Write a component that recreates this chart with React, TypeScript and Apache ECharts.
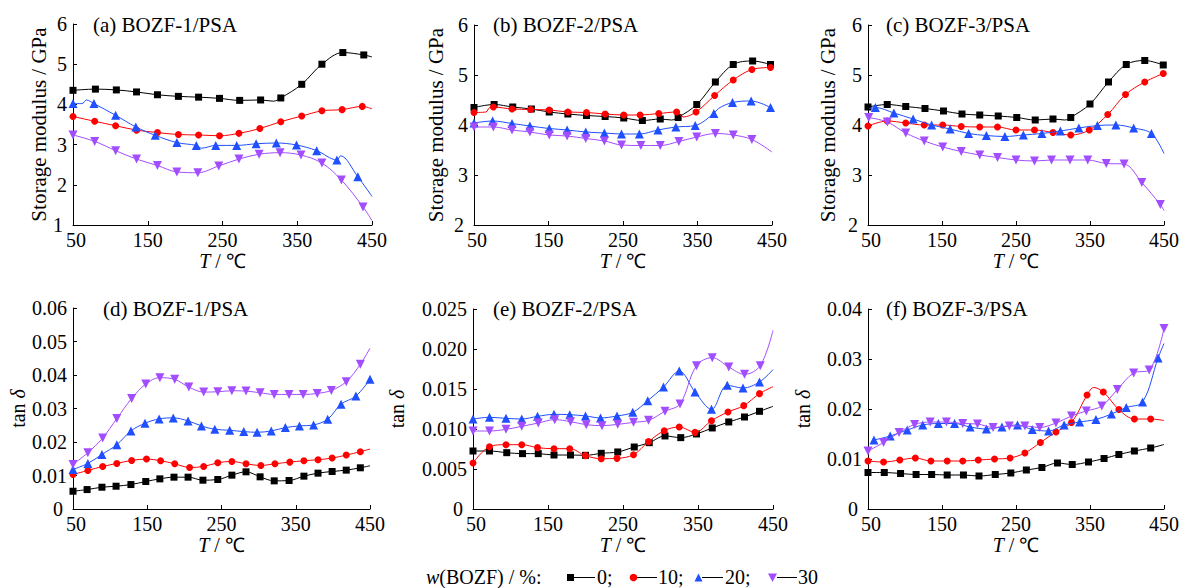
import React, { useEffect, useRef } from "react";
import * as echarts from "echarts";

type P = [number, number];

const FONT = "Liberation Serif";
const T_TICKS = [50, 150, 250, 350, 450];
const SERIES_NAMES = ["0", "10", "20", "30"];
const PANEL_TITLES = [
  "(a) BOZF-1/PSA",
  "(b) BOZF-2/PSA",
  "(c) BOZF-3/PSA",
  "(d) BOZF-1/PSA",
  "(e) BOZF-2/PSA",
  "(f) BOZF-3/PSA",
];

// ---- (a) storage modulus, BOZF-1 ----
const a0: P[] = [[50, 4.35], [80, 4.38], [108, 4.36], [135, 4.31], [163, 4.24], [191, 4.2], [218, 4.18], [246, 4.15], [273, 4.1], [301, 4.11], [318, 4.08], [328, 4.16], [356, 4.5], [383, 5.0], [411, 5.29], [439, 5.23], [450, 5.18]];
const a0Plain = [318, 450];
const a10: P[] = [[50, 3.7], [79, 3.58], [107, 3.47], [135, 3.36], [163, 3.3], [191, 3.25], [218, 3.24], [246, 3.22], [272, 3.28], [300, 3.4], [328, 3.57], [356, 3.71], [383, 3.84], [410, 3.87], [437, 3.95], [450, 3.89]];
const a10Plain = [450];
const a20: P[] = [[50, 4.02], [62, 4.02], [68, 4.11], [78, 4.02], [107, 3.73], [134, 3.44], [160, 3.23], [189, 3.05], [215, 2.98], [222, 2.91], [241, 2.98], [269, 2.98], [295, 3.02], [322, 3.04], [349, 2.99], [376, 2.85], [403, 2.62], [408, 2.72], [431, 2.2], [450, 1.71]];
const a20Plain = [62, 68, 222, 408, 450];
const a30: P[] = [[50, 3.24], [79, 3.08], [107, 2.85], [135, 2.64], [163, 2.48], [189, 2.32], [217, 2.3], [245, 2.47], [272, 2.64], [299, 2.76], [327, 2.8], [355, 2.74], [383, 2.54], [409, 2.12], [438, 1.45], [450, 1.11]];
const a30Plain = [450];

// ---- (b) storage modulus, BOZF-2 ----
const b0: P[] = [[50, 4.35], [77, 4.41], [102, 4.36], [127, 4.32], [151, 4.26], [176, 4.22], [201, 4.19], [226, 4.17], [251, 4.14], [276, 4.09], [300, 4.12], [315, 4.1], [324, 4.15], [349, 4.41], [374, 4.86], [398, 5.21], [424, 5.28], [448, 5.21]];
const b0Plain = [315];
const b10: P[] = [[50, 4.25], [66, 4.26], [71, 4.35], [76, 4.36], [101, 4.32], [126, 4.31], [151, 4.3], [176, 4.26], [201, 4.25], [226, 4.22], [251, 4.2], [273, 4.2], [298, 4.23], [322, 4.26], [331, 4.16], [348, 4.26], [373, 4.59], [398, 4.9], [423, 5.11], [448, 5.15]];
const b10Plain = [66, 71, 331];
const b20: P[] = [[50, 4.04], [75, 4.08], [101, 4.03], [125, 3.98], [151, 3.93], [175, 3.9], [200, 3.86], [225, 3.84], [248, 3.82], [272, 3.82], [297, 3.9], [321, 3.96], [347, 3.99], [372, 4.23], [378, 4.33], [397, 4.45], [422, 4.48], [448, 4.35]];
const b20Plain = [378];
const b30: P[] = [[50, 3.96], [76, 3.96], [101, 3.9], [125, 3.86], [151, 3.8], [175, 3.78], [200, 3.73], [225, 3.68], [248, 3.6], [274, 3.59], [300, 3.59], [325, 3.67], [349, 3.76], [374, 3.83], [398, 3.8], [423, 3.71], [450, 3.46]];
const b30Plain = [450];

// ---- (c) storage modulus, BOZF-3 ----
const c0: P[] = [[50, 4.36], [76, 4.41], [101, 4.37], [127, 4.33], [152, 4.28], [177, 4.22], [201, 4.2], [226, 4.18], [251, 4.15], [276, 4.1], [300, 4.12], [316, 4.1], [324, 4.15], [350, 4.42], [375, 4.86], [399, 5.21], [424, 5.29], [449, 5.2]];
const c0Plain = [316];
const c10: P[] = [[50, 3.98], [76, 4.08], [101, 4.04], [126, 4.0], [151, 4.0], [176, 3.97], [201, 3.96], [225, 3.96], [250, 3.9], [275, 3.9], [300, 3.85], [324, 3.8], [349, 3.9], [374, 4.21], [398, 4.61], [424, 4.86], [449, 5.03]];
const c10Plain: number[] = [];
const c20: P[] = [[52, 4.33], [60, 4.35], [85, 4.24], [111, 4.12], [136, 4.0], [161, 3.92], [186, 3.83], [210, 3.79], [235, 3.77], [260, 3.8], [285, 3.83], [310, 3.88], [335, 3.94], [360, 3.99], [385, 4.0], [409, 3.94], [433, 3.83], [450, 3.43]];
const c20Plain = [52, 450];
const c30: P[] = [[51, 4.15], [76, 4.06], [101, 3.84], [126, 3.68], [151, 3.56], [176, 3.47], [201, 3.4], [225, 3.35], [250, 3.3], [275, 3.28], [298, 3.3], [323, 3.3], [347, 3.3], [372, 3.23], [396, 3.22], [420, 2.85], [445, 2.41], [450, 2.29]];
const c30Plain = [450];

// ---- (d) tan delta, BOZF-1 ----
const d0: P[] = [[50, 0.0053], [69, 0.0058], [89, 0.0065], [108, 0.0068], [128, 0.0073], [148, 0.0082], [167, 0.009], [186, 0.0095], [205, 0.0095], [225, 0.0086], [245, 0.0088], [264, 0.0101], [283, 0.0111], [302, 0.0096], [321, 0.0084], [341, 0.0085], [361, 0.0098], [380, 0.0107], [399, 0.0112], [418, 0.0116], [437, 0.0123], [450, 0.0129]];
const d0Plain = [450];
const d10: P[] = [[50, 0.0103], [70, 0.0115], [90, 0.0127], [109, 0.0136], [129, 0.0145], [149, 0.0149], [168, 0.0144], [187, 0.0135], [207, 0.0124], [226, 0.0127], [245, 0.0138], [264, 0.0142], [283, 0.0135], [303, 0.013], [322, 0.0135], [342, 0.014], [361, 0.0144], [380, 0.0147], [399, 0.0152], [418, 0.0161], [437, 0.0171], [450, 0.0179]];
const d10Plain = [450];
const d20: P[] = [[50, 0.0118], [70, 0.0136], [89, 0.0163], [109, 0.0192], [128, 0.0233], [147, 0.0256], [166, 0.0269], [185, 0.0272], [205, 0.0263], [223, 0.0248], [241, 0.0238], [261, 0.0235], [280, 0.0231], [298, 0.0229], [317, 0.0233], [336, 0.0243], [355, 0.0248], [374, 0.0251], [393, 0.0268], [411, 0.0313], [431, 0.0337], [450, 0.0387]];
const d20Plain: number[] = [];
const d30: P[] = [[50, 0.0133], [70, 0.0168], [90, 0.0212], [109, 0.027], [129, 0.033], [148, 0.0373], [167, 0.0392], [187, 0.0387], [206, 0.0364], [226, 0.0349], [245, 0.035], [264, 0.0353], [283, 0.0352], [302, 0.0347], [321, 0.0342], [341, 0.0342], [360, 0.0342], [379, 0.0345], [398, 0.0354], [418, 0.038], [437, 0.0432], [450, 0.048]];
const d30Plain = [450];

// ---- (e) tan delta, BOZF-2 ----
const e0: P[] = [[50, 0.00725], [72, 0.00725], [95, 0.00704], [116, 0.00692], [137, 0.00692], [158, 0.00675], [180, 0.00675], [200, 0.00671], [221, 0.00696], [243, 0.00713], [265, 0.00775], [285, 0.00829], [306, 0.00913], [327, 0.00892], [348, 0.00938], [369, 0.01013], [391, 0.01088], [412, 0.0115], [432, 0.01221], [450, 0.01283]];
const e0Plain = [450];
const e10: P[] = [[50, 0.00575], [72, 0.00779], [94, 0.00804], [115, 0.00804], [136, 0.00767], [158, 0.00754], [179, 0.00754], [200, 0.00667], [221, 0.00629], [242, 0.00633], [264, 0.00679], [284, 0.00842], [305, 0.00979], [325, 0.01025], [346, 0.00958], [368, 0.01104], [390, 0.01213], [411, 0.01292], [432, 0.01442], [450, 0.01529]];
const e10Plain = [450];
const e20: P[] = [[50, 0.01125], [72, 0.01146], [94, 0.01133], [115, 0.01125], [136, 0.01158], [158, 0.01183], [179, 0.01179], [200, 0.01163], [220, 0.01138], [242, 0.01163], [263, 0.01208], [283, 0.01354], [304, 0.01525], [325, 0.01725], [346, 0.01463], [368, 0.01246], [389, 0.01546], [410, 0.01513], [432, 0.01588], [450, 0.01742]];
const e20Plain = [450];
const e30: P[] = [[50, 0.00975], [72, 0.00975], [94, 0.00996], [115, 0.01033], [137, 0.01075], [159, 0.01117], [180, 0.01092], [201, 0.01054], [222, 0.01042], [243, 0.01058], [264, 0.01083], [284, 0.01108], [306, 0.01221], [326, 0.01313], [348, 0.01792], [369, 0.01892], [391, 0.01775], [412, 0.01683], [433, 0.01792], [450, 0.02233]];
const e30Plain = [450];

// ---- (f) tan delta, BOZF-3 ----
const f0: P[] = [[50, 0.0073], [72, 0.0073], [94, 0.0071], [115, 0.0069], [136, 0.0069], [157, 0.0068], [179, 0.0068], [200, 0.0066], [222, 0.0069], [243, 0.0072], [264, 0.0078], [285, 0.0083], [306, 0.0092], [326, 0.0089], [348, 0.0094], [369, 0.0101], [389, 0.0109], [410, 0.0116], [432, 0.0122], [450, 0.0129]];
const f0Plain = [450];
const f10: P[] = [[50, 0.0096], [71, 0.0094], [93, 0.0098], [114, 0.0102], [135, 0.0096], [157, 0.0096], [178, 0.0096], [199, 0.0098], [221, 0.01], [242, 0.0102], [262, 0.0112], [283, 0.0133], [304, 0.0154], [325, 0.0173], [346, 0.0228], [355, 0.0243], [368, 0.0234], [389, 0.0199], [410, 0.018], [432, 0.018], [450, 0.0177]];
const f10Plain = [355, 450];
const f20: P[] = [[58, 0.0138], [80, 0.0146], [103, 0.0158], [124, 0.0168], [145, 0.0171], [167, 0.0171], [188, 0.0164], [210, 0.016], [231, 0.0164], [252, 0.0168], [272, 0.0159], [294, 0.0156], [315, 0.0168], [336, 0.0174], [358, 0.0179], [379, 0.019], [399, 0.0203], [421, 0.0214], [442, 0.0302], [450, 0.0331]];
const f20Plain = [450];
const f30: P[] = [[50, 0.0116], [71, 0.0133], [92, 0.0153], [113, 0.0169], [134, 0.0174], [156, 0.0174], [178, 0.0171], [198, 0.017], [219, 0.0163], [241, 0.0166], [262, 0.0166], [282, 0.0163], [304, 0.0172], [325, 0.0186], [345, 0.0196], [366, 0.0206], [387, 0.0239], [409, 0.0272], [430, 0.0278], [450, 0.0361]];
const f30Plain: number[] = [];

const PANELS: { data: P[]; plain: number[] }[][] = [
  [{ data: a0, plain: a0Plain }, { data: a10, plain: a10Plain }, { data: a20, plain: a20Plain }, { data: a30, plain: a30Plain }],
  [{ data: b0, plain: b0Plain }, { data: b10, plain: b10Plain }, { data: b20, plain: b20Plain }, { data: b30, plain: b30Plain }],
  [{ data: c0, plain: c0Plain }, { data: c10, plain: c10Plain }, { data: c20, plain: c20Plain }, { data: c30, plain: c30Plain }],
  [{ data: d0, plain: d0Plain }, { data: d10, plain: d10Plain }, { data: d20, plain: d20Plain }, { data: d30, plain: d30Plain }],
  [{ data: e0, plain: e0Plain }, { data: e10, plain: e10Plain }, { data: e20, plain: e20Plain }, { data: e30, plain: e30Plain }],
  [{ data: f0, plain: f0Plain }, { data: f10, plain: f10Plain }, { data: f20, plain: f20Plain }, { data: f30, plain: f30Plain }],
];

const COLORS = ["#000000", "#ff0000", "#1f4fff", "#a24dff"];
const SYMBOLS = ["rect", "circle", "triangle", "triangle"];
const SYMBOL_SIZES = [7, 7, 9, 9];
const SYMBOL_ROTATE = [0, 0, 0, 180];

const GRIDS = [
  { left: 73, top: 24, width: 299, height: 201 },
  { left: 474, top: 25, width: 298, height: 200 },
  { left: 868, top: 25, width: 297, height: 200 },
  { left: 73, top: 308, width: 297, height: 201 },
  { left: 473, top: 309, width: 300, height: 200 },
  { left: 868, top: 309, width: 296, height: 200 },
];
const TITLE_POS = [
  { left: 93, top: 14 },
  { left: 493, top: 14 },
  { left: 886, top: 14 },
  { left: 103, top: 298 },
  { left: 493, top: 298 },
  { left: 886, top: 298 },
];
const Y_RANGES = [
  { min: 1, max: 6, interval: 1, dec: 0 },
  { min: 2, max: 6, interval: 1, dec: 0 },
  { min: 2, max: 6, interval: 1, dec: 0 },
  { min: 0, max: 0.06, interval: 0.01, dec: 2 },
  { min: 0, max: 0.025, interval: 0.005, dec: 3 },
  { min: 0, max: 0.04, interval: 0.01, dec: 2 },
];
const Y_NAME_GAPS = [24, 28, 30, 45, 66, 55];

export default function App() {
  const ref = useRef<HTMLDivElement>(null);
  useEffect(() => {
    if (!ref.current) return;
    const chart = echarts.init(ref.current, undefined, { renderer: "svg" });
    const txt = { fontFamily: FONT, fontSize: 20, color: "#000" };

    const xAxis = GRIDS.map((_, i) => ({
      type: "value",
      gridIndex: i,
      min: 50,
      max: 450,
      name: "{i|T} / ℃",
      nameLocation: "middle",
      nameGap: 22,
      nameTextStyle: {
        ...txt,
        rich: { i: { fontFamily: FONT, fontSize: 20, fontStyle: "italic", color: "#000" } },
      },
      axisLine: { show: true, lineStyle: { color: "#000", width: 1 } },
      axisTick: { show: true, inside: true, length: 4, customValues: T_TICKS, lineStyle: { color: "#000" } },
      axisLabel: {
        ...txt,
        margin: 8,
        lineHeight: 14,
        customValues: T_TICKS,
        formatter: (v: number) => (v === 50 ? "{m|50}" : String(v)),
        rich: { m: { fontFamily: FONT, fontSize: 20, color: "#000", lineHeight: 14, padding: [0, 0, 0, 6] } },
      },
      splitLine: { show: false },
    }));

    const yAxis = GRIDS.map((_, i) => {
      const r = Y_RANGES[i];
      const isTan = i >= 3;
      return {
        type: "value",
        gridIndex: i,
        min: r.min,
        max: r.max,
        interval: r.interval,
        name: isTan ? "tan {i|δ}" : "Storage modulus / GPa",
        nameLocation: "middle",
        nameGap: Y_NAME_GAPS[i],
        nameTextStyle: {
          ...txt,
          fontSize: isTan ? 20 : 21,
          rich: { i: { fontFamily: FONT, fontSize: 20, fontStyle: "italic", color: "#000" } },
        },
        axisLine: { show: true, lineStyle: { color: "#000", width: 1 } },
        axisTick: { show: true, inside: true, length: 4, lineStyle: { color: "#000" } },
        axisLabel: {
          ...txt,
          margin: 6,
          lineHeight: 14,
          formatter: (v: number) => {
            const s = Math.abs(v) < 1e-12 ? "0" : v.toFixed(r.dec);
            return Math.abs(v - r.min) < 1e-12 ? "{m|" + s + "}" : s;
          },
          rich: { m: { fontFamily: FONT, fontSize: 20, color: "#000", lineHeight: 14, padding: [0, 4, 0, 0] } },
        },
        splitLine: { show: false },
      };
    });

    const series: any[] = [];
    PANELS.forEach((panel, pi) => {
      panel.forEach((s, si) => {
        series.push({
          type: "line",
          name: SERIES_NAMES[si],
          xAxisIndex: pi,
          yAxisIndex: pi,
          smooth: 0.35,
          symbol: SYMBOLS[si],
          symbolSize: SYMBOL_SIZES[si],
          symbolRotate: SYMBOL_ROTATE[si],
          showSymbol: true,
          itemStyle: { color: COLORS[si] },
          lineStyle: { color: COLORS[si], width: 1 },
          z: 2 + si,
          data: s.data.map(([t, v]) =>
            s.plain.includes(t) ? { value: [t, v], symbol: "none" } : { value: [t, v] }
          ),
        });
      });
    });

    const ly = 577;
    const legendText = (x: number, text: string) => ({
      type: "text",
      x,
      y: ly,
      style: { text, fontFamily: FONT, fontSize: 20, fill: "#000", verticalAlign: "middle" },
    });
    const legendLine = (x1: number, x2: number) => ({
      type: "line",
      shape: { x1, y1: ly + 0.5, x2, y2: ly + 0.5 },
      style: { stroke: "#000", lineWidth: 1 },
    });

    const graphic = [
      {
        type: "text",
        x: 426,
        y: ly,
        style: {
          text: "{i|w}(BOZF) / %:",
          fontFamily: FONT,
          fontSize: 20,
          fill: "#000",
          verticalAlign: "middle",
          rich: { i: { fontFamily: FONT, fontSize: 20, fontStyle: "italic", fill: "#000" } },
        },
      },
      { type: "rect", shape: { x: 567, y: ly - 3, width: 7, height: 7 }, style: { fill: COLORS[0] } },
      legendLine(574, 595),
      legendText(597, "0;"),
      { type: "circle", shape: { cx: 633.5, cy: ly + 0.5, r: 3.8 }, style: { fill: COLORS[1] } },
      legendLine(637, 657),
      legendText(658, "10;"),
      { type: "polygon", shape: { points: [[694.5, ly + 4.5], [702.5, ly + 4.5], [698.5, ly - 3.5]] }, style: { fill: COLORS[2] } },
      legendLine(702, 723),
      legendText(725, "20;"),
      { type: "polygon", shape: { points: [[768, ly - 3.5], [777, ly - 3.5], [772.5, ly + 5]] }, style: { fill: COLORS[3] } },
      legendLine(777, 797),
      legendText(798, "30"),
    ];

    chart.setOption({
      animation: false,
      backgroundColor: "#fff",
      textStyle: { fontFamily: FONT },
      title: PANEL_TITLES.map((t, i) => ({
        text: t,
        left: TITLE_POS[i].left,
        top: TITLE_POS[i].top,
        padding: 0,
        textStyle: { fontFamily: FONT, fontSize: 21, fontWeight: "normal", color: "#000" },
      })),
      grid: GRIDS.map((g) => ({ ...g, containLabel: false })),
      xAxis,
      yAxis,
      series,
      graphic,
    });
    return () => chart.dispose();
  }, []);

  return (
    <div
      ref={ref}
      style={{ position: "absolute", left: 0, top: 0, width: 1182, height: 588, background: "#fff" }}
    />
  );
}
